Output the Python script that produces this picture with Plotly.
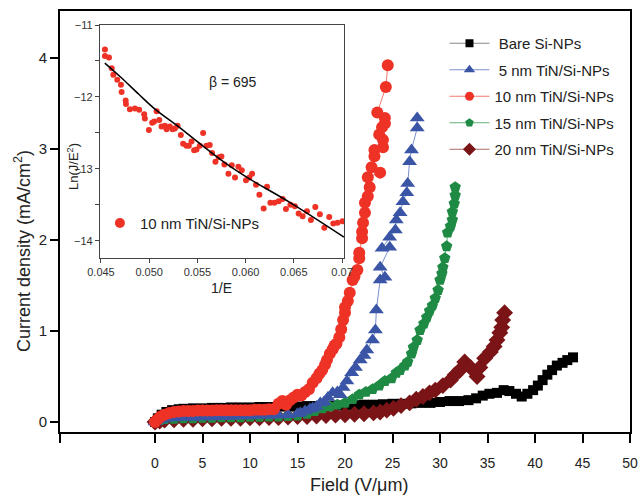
import plotly.graph_objects as go

# ---------------- main data ----------------
bare_x = [0, 0.3, 0.7, 1.2, 1.8, 2.5, 3, 4, 5, 6, 7, 8, 9, 10, 11, 12, 13, 14, 15, 16, 17, 18, 19, 20,
          21, 22, 23, 24, 25, 26, 27, 28, 29, 30, 31, 32, 33, 33.8, 34.5, 35.2, 36.0, 36.7, 37.3, 38.0,
          38.6, 39.2, 39.8, 40.3, 40.8, 41.3, 41.8, 42.3, 42.9, 43.4, 44.0]
bare_y = [0, 0.04, 0.08, 0.11, 0.13, 0.14, 0.145, 0.15, 0.15, 0.155, 0.155, 0.16, 0.16, 0.16, 0.165,
          0.165, 0.17, 0.17, 0.17, 0.175, 0.175, 0.18, 0.18, 0.18, 0.185, 0.19, 0.19, 0.195, 0.20, 0.20,
          0.205, 0.21, 0.21, 0.22, 0.23, 0.23, 0.24, 0.26, 0.29, 0.31, 0.32, 0.35, 0.34, 0.31, 0.28, 0.31,
          0.35, 0.40, 0.46, 0.52, 0.57, 0.62, 0.65, 0.68, 0.71]

tin5_x = [0, 0.3, 0.7, 1.2, 2, 3, 4, 5, 6, 7, 8, 9, 10, 11, 12, 13, 14, 15.0, 15.3, 15.8, 16.3, 16.6,
          17.0, 17.4, 17.8, 18.2, 18.7, 19.2, 19.5, 19.8, 20.2, 20.7, 21.1, 21.6, 22.0, 22.3, 22.9, 23.2,
          23.3, 23.7, 24.2, 23.7, 24.7, 23.9, 24.7, 25.3, 25.4, 25.8, 26.1, 26.5, 26.6, 26.8, 27.0, 27.6,
          27.6]
tin5_y = [0, 0.02, 0.03, 0.04, 0.045, 0.05, 0.05, 0.055, 0.055, 0.06, 0.06, 0.065, 0.065, 0.07, 0.07,
          0.075, 0.08, 0.09, 0.10, 0.12, 0.14, 0.15, 0.17, 0.21, 0.22, 0.27, 0.32, 0.33, 0.30, 0.38, 0.45,
          0.54, 0.60, 0.68, 0.73, 0.79, 0.90, 1.01, 1.23, 1.56, 1.59, 1.70, 1.92, 1.91, 2.03, 2.11, 2.22,
          2.30, 2.42, 2.52, 2.62, 2.86, 2.99, 3.23, 3.34]

tin10_x = [0, 0.3, 0.6, 1.0, 1.5, 2.0, 2.5, 3, 3.5, 4, 4.5, 5, 5.5, 6, 6.5, 7, 7.5, 8, 8.5, 9, 9.5, 10,
           10.5, 11, 11.5, 12, 12.5, 13.0, 13.4, 13.8, 14.2, 14.6, 15.0, 15.4, 15.8, 16.2, 16.6, 17.0,
           17.3, 17.6, 17.9, 18.1, 18.4, 18.7, 18.9, 19.1, 19.4, 19.6, 19.8, 20.0, 20.0, 20.3, 20.5, 20.8,
           21.0, 21.3, 21.5, 21.5, 21.8, 21.8, 21.9, 22.1, 22.1, 22.4, 22.6, 22.4, 23.7, 22.8, 23.1, 23.1,
           24.0, 24.0, 23.6, 23.9, 24.2, 24.2, 23.4, 24.3, 24.5]
tin10_y = [0, 0.03, 0.06, 0.08, 0.10, 0.11, 0.115, 0.12, 0.12, 0.12, 0.125, 0.125, 0.125, 0.125, 0.13,
           0.13, 0.13, 0.13, 0.13, 0.13, 0.13, 0.13, 0.135, 0.135, 0.135, 0.14, 0.14, 0.20, 0.23, 0.19,
           0.24, 0.27, 0.30, 0.29, 0.33, 0.36, 0.43, 0.48, 0.53, 0.57, 0.63, 0.68, 0.75, 0.80, 0.84, 0.86,
           0.93, 1.02, 1.12, 1.20, 1.26, 1.33, 1.42, 1.56, 1.60, 1.67, 1.80, 1.86, 2.02, 2.09, 2.19, 2.30,
           2.41, 2.48, 2.58, 2.69, 2.74, 2.80, 2.92, 2.99, 3.02, 3.10, 3.16, 3.24, 3.28, 3.34, 3.40, 3.68,
           3.92]

tin15_x = [0, 0.5, 1, 2, 3, 4, 5, 6, 7, 8, 9, 10, 11, 12, 13, 14, 15, 16, 16.8, 17.6, 18.4, 19.2, 20.0,
           20.8, 21.5, 22.2, 22.9, 23.6, 24.2, 24.9, 25.4, 25.8, 26.3, 26.6, 27.0, 27.2, 27.6, 27.9, 28.3,
           28.6, 28.9, 29.2, 29.5, 29.8, 30.0, 30.2, 30.3, 30.5, 30.7, 30.8, 31.1, 31.3, 31.3, 31.5, 31.6,
           31.6]
tin15_y = [0, 0.02, 0.03, 0.035, 0.04, 0.04, 0.045, 0.045, 0.05, 0.05, 0.05, 0.055, 0.055, 0.06, 0.06,
           0.065, 0.07, 0.09, 0.12, 0.15, 0.17, 0.19, 0.21, 0.25, 0.30, 0.33, 0.36, 0.40, 0.45, 0.48, 0.54,
           0.57, 0.62, 0.66, 0.75, 0.82, 0.90, 1.01, 1.08, 1.15, 1.22, 1.28, 1.36, 1.45, 1.56, 1.63, 1.70,
           1.80, 1.93, 2.08, 2.15, 2.22, 2.31, 2.40, 2.49, 2.58]

tin20_x = [0, 0.5, 1, 2, 3, 4, 5, 6, 7, 8, 9, 10, 11, 12, 13, 14, 15, 16, 17, 18, 19, 20, 21, 22, 23,
           23.7, 24.4, 25.1, 25.9, 26.8, 27.5, 28.2, 28.9, 29.5, 30.3, 31.1, 31.6, 32.1, 32.6, 33.2, 33.9,
           34.2, 34.7, 35.3, 35.7, 36.0, 36.3, 36.5, 36.6, 36.8]
tin20_y = [0, 0.01, 0.02, 0.025, 0.03, 0.03, 0.035, 0.035, 0.04, 0.04, 0.04, 0.045, 0.045, 0.05, 0.05,
           0.055, 0.06, 0.06, 0.065, 0.07, 0.075, 0.08, 0.085, 0.09, 0.10, 0.11, 0.13, 0.15, 0.18, 0.21,
           0.25, 0.28, 0.32, 0.35, 0.40, 0.46, 0.52, 0.57, 0.66, 0.60, 0.50, 0.60, 0.70, 0.77, 0.83, 0.90,
           0.98, 1.04, 1.12, 1.20]

series_names = [" Bare Si-NPs", " 5 nm TiN/Si-NPs", "10 nm TiN/Si-NPs", "15 nm TiN/Si-NPs", "20 nm TiN/Si-NPs"]
x_tick_vals = [-10, 0, 5, 10, 15, 20, 25, 30, 35, 40, 45, 50]
x_tick_text = [" ", "0", "5", "10", "15", "20", "25", "30", "35", "40", "45", "50"]
y_tick_vals = [0, 1, 2, 3, 4]
x_title = "Field (V/μm)"
y_title = "Current density (mA/cm<sup>2</sup>)"

# ---------------- inset data ----------------
inv_e = [0.04541, 0.04541, 0.04583, 0.04611, 0.04628, 0.04669, 0.04707, 0.04714, 0.04756, 0.04759,
         0.04800, 0.04852, 0.04896, 0.04948, 0.04955, 0.04997, 0.05031, 0.05052, 0.05077, 0.05104,
         0.05128, 0.05163, 0.05180, 0.05214, 0.05242, 0.05266, 0.05294, 0.05328, 0.05352, 0.05387,
         0.05411, 0.05439, 0.05466, 0.05491, 0.05525, 0.05559, 0.05594, 0.05628, 0.05652, 0.05687,
         0.05722, 0.05749, 0.05780, 0.05822, 0.05856, 0.05890, 0.05925, 0.05960, 0.06004, 0.06039,
         0.06067, 0.06108, 0.06143, 0.06187, 0.06222, 0.06257, 0.06298, 0.06343, 0.06384, 0.06418,
         0.06464, 0.06511, 0.06550, 0.06591, 0.06636, 0.06677, 0.06723, 0.06770, 0.06816, 0.06867,
         0.06909, 0.06953, 0.07005]
ln_je2 = [-11.34, -11.43, -11.45, -11.60, -11.69, -11.76, -11.83, -11.93, -12.05, -12.10,
          -12.17, -12.16, -12.18, -12.24, -12.30, -12.46, -12.36, -12.34, -12.20, -12.32,
          -12.41, -12.40, -12.45, -12.41, -12.45, -12.44, -12.40, -12.53, -12.65, -12.68,
          -12.68, -12.62, -12.74, -12.73, -12.68, -12.50, -12.68, -12.67, -12.78, -12.90,
          -12.84, -12.83, -12.94, -13.07, -12.95, -13.12, -12.97, -13.02, -13.16, -13.12,
          -13.07, -13.22, -13.36, -13.55, -13.25, -13.47, -13.47, -13.45, -13.42, -13.56,
          -13.50, -13.52, -13.62, -13.66, -13.59, -13.71, -13.53, -13.63, -13.82, -13.67,
          -13.76, -13.75, -13.73]
fit_x = [0.0454, 0.0470, 0.0489, 0.0506, 0.0530, 0.0547, 0.0578, 0.0604, 0.0645, 0.0702]
fit_y = [-11.53, -11.72, -11.96, -12.17, -12.41, -12.59, -12.91, -13.14, -13.46, -13.95]
inset_x_ticks = [0.045, 0.050, 0.055, 0.060, 0.065, 0.070]
inset_x_text = ["0.045", "0.050", "0.055", "0.060", "0.065", "0.07"]
inset_label = "10 nm TiN/Si-NPs"
inset_x_title = "1/E"
inset_y_title = "Ln(J/E<sup>2</sup>)"
beta_text = "β = 695"

FONT = "Arial, Liberation Sans, sans-serif"
TXT = "#222"

styles = [
    # data x, data y, marker color, line color, symbol, size, legend size
    (bare_x, bare_y, "#000000", "#8a8a8a", "square", 10, 8),
    (tin5_x, tin5_y, "#3a55a6", "#7b8fcc", "triangle-up", 13, 10),
    (tin10_x, tin10_y, "#ee3226", "#f57a70", "circle", 12, 9),
    (tin15_x, tin15_y, "#1f8a44", "#62b07b", "pentagon", 12, 9),
    (tin20_x, tin20_y, "#7a1416", "#a86a6a", "diamond", 13, 10),
]

fig = go.Figure()

# draw order: black, dark red, green, blue, red
for idx in [0, 4, 3, 1, 2]:
    xs, ys, mc, lc, sym, sz, _ = styles[idx]
    fig.add_trace(go.Scatter(
        x=xs, y=ys, mode="lines+markers", showlegend=False,
        line=dict(color=lc, width=1),
        marker=dict(symbol=sym, size=sz, color=mc, line=dict(width=0)),
        xaxis="x", yaxis="y",
    ))

# legend entries
for idx in range(5):
    xs, ys, mc, lc, sym, sz, lsz = styles[idx]
    fig.add_trace(go.Scatter(
        x=[None], y=[None], mode="lines+markers", name=series_names[idx],
        legendgroup=f"g{idx}", legendrank=idx + 1,
        line=dict(color=lc, width=1.2),
        marker=dict(symbol=sym, size=lsz, color=mc),
        xaxis="x", yaxis="y",
    ))

# inset
fig.add_trace(go.Scatter(
    x=inv_e, y=ln_je2, mode="markers", showlegend=False,
    marker=dict(size=6, color="#ee3226"), xaxis="x2", yaxis="y2",
))
fig.add_trace(go.Scatter(
    x=fit_x, y=fit_y, mode="lines", showlegend=False,
    line=dict(color="black", width=1.5, shape="spline"), xaxis="x2", yaxis="y2",
))
fig.add_trace(go.Scatter(
    x=[None], y=[None], mode="markers", name=inset_label, legend="legend2",
    marker=dict(size=10, color="#ee3226"), xaxis="x2", yaxis="y2",
))

fig.update_layout(
    width=641, height=498,
    margin=dict(l=60, r=11, t=11, b=66, autoexpand=False),
    paper_bgcolor="white", plot_bgcolor="white",
    font=dict(family=FONT, color=TXT, size=13),
    xaxis=dict(
        range=[-10, 50], tickvals=x_tick_vals, ticktext=x_tick_text,
        ticks="outside", ticklen=9, tickwidth=1.5, tickcolor="black",
        showline=True, linewidth=2, linecolor="black", mirror=True,
        showgrid=False, zeroline=False, ticklabelstandoff=8, automargin=False,
        tickfont=dict(size=14, color=TXT),
    ),
    yaxis=dict(
        range=[-0.11, 4.516], tickvals=y_tick_vals,
        ticks="outside", ticklen=8, tickwidth=1.5, tickcolor="black",
        showline=True, linewidth=2, linecolor="black", mirror=True,
        showgrid=False, zeroline=False, automargin=False,
        tickfont=dict(size=15, color=TXT),
    ),
    xaxis2=dict(
        domain=[0.0702, 0.4982], anchor="y2", range=[0.0449, 0.0702],
        tickvals=inset_x_ticks, ticktext=inset_x_text,
        ticks="outside", ticklen=4, tickwidth=1, tickcolor="#444",
        showline=True, linewidth=1.2, linecolor="#444", mirror=True,
        showgrid=False, zeroline=False, automargin=False,
        tickfont=dict(size=11, color="#333"),
    ),
    yaxis2=dict(
        domain=[0.4133, 0.9667], anchor="x2", range=[-14.24, -11],
        tick0=-11, dtick=1,
        ticks="outside", ticklen=4, tickwidth=1, tickcolor="#444",
        minor=dict(dtick=0.5, ticks="outside", ticklen=4, tickcolor="#444"),
        showline=True, linewidth=1.2, linecolor="#444", mirror=True,
        showgrid=False, zeroline=False, automargin=False,
        tickfont=dict(size=11, color="#333"),
    ),
    legend=dict(
        x=0.6745, y=0.962, xanchor="left", yanchor="top",
        font=dict(size=15, color=TXT), bgcolor="rgba(0,0,0,0)",
        tracegroupgap=4, traceorder="grouped", itemwidth=40,
    ),
    legend2=dict(
        x=0.07, y=0.496, xanchor="left", yanchor="middle",
        font=dict(size=15, color=TXT), bgcolor="rgba(0,0,0,0)",
        itemwidth=30,
    ),
    annotations=[
        dict(text=beta_text, x=0.05867, y=-11.79, xref="x2", yref="y2",
             showarrow=False, font=dict(size=14, color=TXT)),
        dict(text=x_title, x=(359 - 60) / 570, y=-(485 - 432) / 421, xref="paper", yref="paper",
             xanchor="center", yanchor="middle", showarrow=False, font=dict(size=18, color=TXT)),
        dict(text=y_title, x=-(60 - 22) / 570, y=(432 - 251) / 421, xref="paper", yref="paper",
             xanchor="center", yanchor="middle", textangle=-90, showarrow=False,
             font=dict(size=18, color=TXT)),
        dict(text=inset_x_title, x=0.0575, y=(432 - 288) / 421, xref="x2", yref="paper",
             xanchor="center", yanchor="middle", showarrow=False, font=dict(size=14, color=TXT)),
        dict(text=inset_y_title, x=(73 - 60) / 570, y=(432 - 167) / 421, xref="paper", yref="paper",
             xanchor="center", yanchor="middle", textangle=-90, showarrow=False,
             font=dict(size=13, color=TXT)),
    ],
)

# the page's default body margin would offset the 641x498 figure; remove it
fig.write_html("out.html", config={"displayModeBar": False},
               post_script="document.body.style.margin='0px';")
